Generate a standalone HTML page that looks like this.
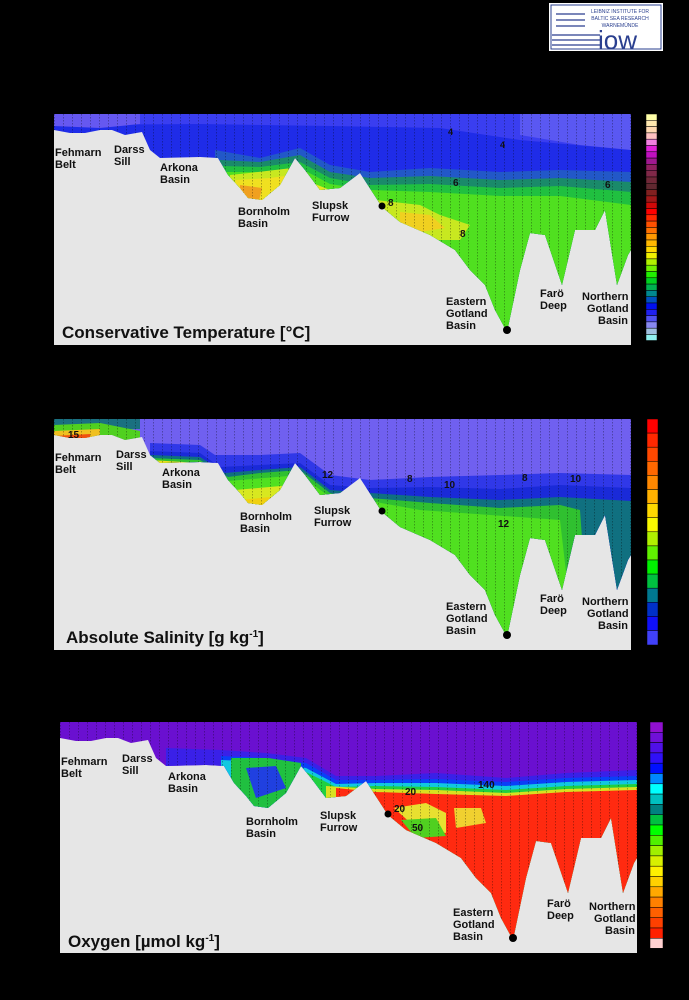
<!DOCTYPE html>
<html><head><meta charset="utf-8"><style>
html,body{margin:0;padding:0;background:#000;}
svg{display:block;}
text{font-family:"Liberation Sans",sans-serif;font-weight:bold;fill:#111;}
.lb{font-size:11px;}
.tt{font-size:17px;}
</style></head><body>
<svg width="689" height="1000" viewBox="0 0 689 1000" xmlns="http://www.w3.org/2000/svg">
<defs>
<path id="water" d="M54,114 L631,114 L631,250 L628,255 L617,285 L605,210 L595,230 L575,230 L562,285 L545,235 L530,233 L520,270 L507,332 L495,310 L485,285 L470,270 L455,250 L430,235 L400,222 L382,207 L360,173 L340,188 L320,190 L305,170 L295,158 L280,185 L262,200 L248,198 L240,188 L228,175 L218,158 L200,157 L160,158 L150,150 L142,132 L125,135 L112,130 L100,130 L85,133 L70,133 L54,130 Z"/>
<clipPath id="cw"><use href="#water"/></clipPath>
<pattern id="dots" width="9" height="3" patternUnits="userSpaceOnUse"><rect x="0" y="0" width="1" height="1.5" fill="#000" opacity="0.3"/></pattern>
</defs>

<rect x="549" y="3" width="114" height="48" fill="#fff"/>
<rect x="551" y="5" width="110" height="44" fill="none" stroke="#2a3f8f" stroke-width="1"/>
<text x="620" y="13" style="font-size:5px;fill:#2a3f8f;font-weight:normal" text-anchor="middle">LEIBNIZ INSTITUTE FOR</text>
<text x="620" y="20" style="font-size:5px;fill:#2a3f8f;font-weight:normal" text-anchor="middle">BALTIC SEA RESEARCH</text>
<text x="620" y="27" style="font-size:5px;fill:#2a3f8f;font-weight:normal" text-anchor="middle">WARNEMÜNDE</text>
<text x="598" y="49" style="font-size:26px;fill:#2a3f8f;font-weight:normal">iow</text>
<g stroke="#2a3f8f" stroke-width="1.2"><line x1="552" y1="35" x2="600" y2="35"/><line x1="552" y1="40" x2="600" y2="40"/><line x1="552" y1="45" x2="600" y2="45"/><line x1="556" y1="14" x2="585" y2="14"/><line x1="556" y1="20" x2="585" y2="20"/><line x1="556" y1="26" x2="585" y2="26"/></g>

<!-- PANEL 1 -->
<g>
<rect x="54" y="114" width="577" height="231" fill="#e6e6e6"/>
<g clip-path="url(#cw)">
<rect x="54" y="114" width="577" height="230" fill="#1f2ce8"/>
<path d="M54,114 L631,114 L631,150 L520,140 L440,128 L330,126 L200,124 L54,125 Z" fill="#3a3ef0"/>
<path d="M520,114 L631,114 L631,150 L580,145 L520,135 Z" fill="#5a58f2"/>
<path d="M54,114 L140,114 L140,124 L100,128 L54,126 Z" fill="#6658f0"/>
<path d="M215,150 L260,158 L300,148 L330,165 L370,172 L430,168 L500,172 L560,170 L631,172 L631,345 L54,345 L54,200 L215,200 Z" fill="#2258c8"/>
<path d="M220,160 L260,162 L300,155 L330,172 L370,178 L430,176 L500,180 L560,178 L631,182 L631,345 L54,345 L54,210 L220,210 Z" fill="#1a8a6a"/>
<path d="M222,166 L260,167 L300,162 L330,178 L370,185 L430,184 L500,188 L560,186 L631,192 L631,345 L54,345 L54,215 L222,215 Z" fill="#20c040"/>
<path d="M225,172 L260,172 L300,168 L330,184 L370,190 L430,192 L500,196 L560,196 L631,205 L631,345 L54,345 L54,220 L225,220 Z" fill="#50e020"/>
<path d="M230,175 L258,172 L292,168 L300,200 L230,205 Z" fill="#c8e820"/>
<path d="M235,180 L270,178 L292,175 L290,205 L240,205 Z" fill="#f0e020"/>
<path d="M240,185 L262,188 L258,205 L240,205 Z" fill="#f0a020"/>
<path d="M305,180 L330,190 L370,193 L380,215 L305,215 Z" fill="#e8e820"/>
<path d="M375,200 L420,205 L440,215 L470,225 L460,240 L420,240 L380,230 Z" fill="#c8e820"/>
<path d="M400,212 L430,215 L445,228 L420,232 L400,225 Z" fill="#f0d020"/>
<rect x="54" y="114" width="577" height="231" fill="url(#dots)"/>
</g>
<circle cx="507" cy="330" r="4" fill="#000"/>
<circle cx="382" cy="206" r="3.5" fill="#000"/>
<text class="lb" x="55" y="156">Fehmarn</text><text class="lb" x="55" y="168">Belt</text>
<text class="lb" x="114" y="153">Darss</text><text class="lb" x="114" y="165">Sill</text>
<text class="lb" x="160" y="171">Arkona</text><text class="lb" x="160" y="183">Basin</text>
<text class="lb" x="238" y="215">Bornholm</text><text class="lb" x="238" y="227">Basin</text>
<text class="lb" x="312" y="209">Slupsk</text><text class="lb" x="312" y="221">Furrow</text>
<text class="lb" x="446" y="305">Eastern</text><text class="lb" x="446" y="317">Gotland</text><text class="lb" x="446" y="329">Basin</text>
<text class="lb" x="540" y="297">Farö</text><text class="lb" x="540" y="309">Deep</text>
<text class="lb" x="582" y="300">Northern</text><text class="lb" x="587" y="312">Gotland</text><text class="lb" x="598" y="324">Basin</text>
<text class="lb" x="448" y="135" style="font-size:9px">4</text><text class="lb" x="500" y="148" style="font-size:9px">4</text>
<text class="lb" x="453" y="186" style="font-size:10px">6</text><text class="lb" x="605" y="188" style="font-size:10px">6</text>
<text class="lb" x="388" y="206" style="font-size:10px">8</text><text class="lb" x="460" y="237" style="font-size:10px">8</text>
<text class="tt" x="62" y="338">Conservative Temperature [°C]</text>
</g>

<!-- PANEL 2 -->
<g>
<rect x="54" y="419" width="577" height="231" fill="#e6e6e6"/>
<g transform="translate(0,305)">
<g clip-path="url(#cw)">
<rect x="54" y="114" width="577" height="230" fill="#7060f0"/>
<path d="M54,114 L140,114 L140,124 L54,124 Z" fill="#1a7080"/>
<path d="M54,120 L100,118 L140,126 L140,140 L54,140 Z" fill="#50d020"/>
<path d="M54,126 L100,124 L100,140 L54,140 Z" fill="#f0c020"/>
<path d="M54,131 L90,129 L90,140 L54,140 Z" fill="#f05010"/>
<path d="M150,138 L200,140 L215,150 L260,150 L300,148 L330,170 L370,175 L430,172 L500,170 L560,168 L631,170 L631,345 L150,345 Z" fill="#3038e8"/>
<path d="M150,146 L200,148 L220,162 L260,160 L300,158 L330,180 L370,183 L430,182 L500,184 L560,180 L631,183 L631,345 L150,345 Z" fill="#1a2ad8"/>
<path d="M150,150 L200,152 L225,168 L260,165 L300,162 L330,185 L370,188 L430,192 L500,195 L560,192 L631,196 L631,345 L150,345 Z" fill="#107080"/>
<path d="M150,153 L200,155 L228,172 L260,168 L300,165 L330,188 L370,193 L430,198 L500,203 L560,200 L580,205 L590,345 L150,345 Z" fill="#30c030"/>
<path d="M228,176 L300,170 L330,192 L370,196 L420,205 L560,215 L575,345 L150,345 Z" fill="#50e020"/>
<path d="M150,155 L200,158 L200,165 L150,165 Z" fill="#e8e020"/>
<path d="M235,185 L292,180 L300,210 L235,210 Z" fill="#d8e820"/>
<path d="M240,195 L290,190 L290,210 L240,210 Z" fill="#f0d010"/>
<rect x="54" y="114" width="577" height="231" fill="url(#dots)"/>
</g>
<circle cx="507" cy="330" r="4" fill="#000"/>
<circle cx="382" cy="206" r="3.5" fill="#000"/>
</g>
<text class="lb" x="55" y="461">Fehmarn</text><text class="lb" x="55" y="473">Belt</text>
<text class="lb" x="116" y="458">Darss</text><text class="lb" x="116" y="470">Sill</text>
<text class="lb" x="162" y="476">Arkona</text><text class="lb" x="162" y="488">Basin</text>
<text class="lb" x="240" y="520">Bornholm</text><text class="lb" x="240" y="532">Basin</text>
<text class="lb" x="314" y="514">Slupsk</text><text class="lb" x="314" y="526">Furrow</text>
<text class="lb" x="446" y="610">Eastern</text><text class="lb" x="446" y="622">Gotland</text><text class="lb" x="446" y="634">Basin</text>
<text class="lb" x="540" y="602">Farö</text><text class="lb" x="540" y="614">Deep</text>
<text class="lb" x="582" y="605">Northern</text><text class="lb" x="587" y="617">Gotland</text><text class="lb" x="598" y="629">Basin</text>
<text class="lb" x="407" y="482" style="font-size:10px">8</text><text class="lb" x="522" y="481" style="font-size:10px">8</text>
<text class="lb" x="444" y="488" style="font-size:10px">10</text><text class="lb" x="570" y="482" style="font-size:10px">10</text>
<text class="lb" x="322" y="478" style="font-size:10px">12</text><text class="lb" x="498" y="527" style="font-size:10px">12</text>
<text class="lb" x="68" y="438" style="font-size:10px">15</text>
<text class="tt" x="66" y="643">Absolute Salinity [g kg<tspan dy="-6" style="font-size:10px">-1</tspan><tspan dy="6">]</tspan></text>
</g>

<!-- PANEL 3 -->
<g>
<rect x="60" y="722" width="577" height="231" fill="#e6e6e6"/>
<g transform="translate(6,608)">
<g clip-path="url(#cw)">
<rect x="54" y="114" width="577" height="230" fill="#6a10d0"/>
<path d="M160,140 L215,142 L260,145 L300,150 L330,168 L370,168 L430,165 L500,170 L560,165 L631,162 L631,345 L160,345 Z" fill="#3a20e8"/>
<path d="M215,148 L260,150 L300,155 L330,172 L370,172 L430,171 L500,174 L560,170 L631,168 L631,345 L215,345 Z" fill="#0a40f8"/>
<path d="M215,152 L260,154 L300,160 L330,176 L370,175 L430,175 L500,178 L560,174 L631,172 L631,345 L215,345 Z" fill="#10c8e0"/>
<path d="M300,164 L330,179 L370,178 L430,179 L500,182 L560,178 L631,176 L631,345 L300,345 Z" fill="#20d040"/>
<path d="M320,178 L370,181 L430,182 L500,185 L560,181 L631,179 L631,345 L320,345 Z" fill="#d8e020"/>
<path d="M330,180 L370,184 L430,186 L500,188 L560,184 L631,182 L631,345 L330,345 Z" fill="#ff2a10"/>
<path d="M388,200 L420,195 L440,205 L440,225 L410,220 Z" fill="#e8e030"/>
<path d="M395,212 L430,210 L440,228 L410,230 Z" fill="#50d020"/>
<path d="M448,200 L475,200 L480,215 L450,220 Z" fill="#f0d030"/>
<path d="M225,150 L262,150 L295,155 L295,200 L225,200 Z" fill="#20c040"/>
<path d="M240,160 L270,158 L280,180 L250,190 Z" fill="#2040e0"/>
<rect x="54" y="114" width="577" height="231" fill="url(#dots)"/>
</g>
<circle cx="507" cy="330" r="4" fill="#000"/>
<circle cx="382" cy="206" r="3.5" fill="#000"/>
</g>
<text class="lb" x="61" y="765">Fehmarn</text><text class="lb" x="61" y="777">Belt</text>
<text class="lb" x="122" y="762">Darss</text><text class="lb" x="122" y="774">Sill</text>
<text class="lb" x="168" y="780">Arkona</text><text class="lb" x="168" y="792">Basin</text>
<text class="lb" x="246" y="825">Bornholm</text><text class="lb" x="246" y="837">Basin</text>
<text class="lb" x="320" y="819">Slupsk</text><text class="lb" x="320" y="831">Furrow</text>
<text class="lb" x="453" y="916">Eastern</text><text class="lb" x="453" y="928">Gotland</text><text class="lb" x="453" y="940">Basin</text>
<text class="lb" x="547" y="907">Farö</text><text class="lb" x="547" y="919">Deep</text>
<text class="lb" x="589" y="910">Northern</text><text class="lb" x="594" y="922">Gotland</text><text class="lb" x="605" y="934">Basin</text>
<text class="lb" x="405" y="795" style="font-size:10px">20</text><text class="lb" x="394" y="812" style="font-size:10px">20</text>
<text class="lb" x="412" y="831" style="font-size:10px">50</text><text class="lb" x="478" y="788" style="font-size:10px">140</text>
<text class="tt" x="68" y="947">Oxygen [µmol kg<tspan dy="-6" style="font-size:10px">-1</tspan><tspan dy="6">]</tspan></text>
</g>

<g stroke="#000" stroke-width="0.5">
<rect x="646" y="114.0" width="11" height="6.3" fill="#ffffa8"/><rect x="646" y="120.3" width="11" height="6.3" fill="#ffe8b0"/><rect x="646" y="126.6" width="11" height="6.3" fill="#ffd8b0"/><rect x="646" y="132.9" width="11" height="6.3" fill="#ffc0c0"/><rect x="646" y="139.2" width="11" height="6.3" fill="#f080e0"/><rect x="646" y="145.5" width="11" height="6.3" fill="#e020d8"/><rect x="646" y="151.8" width="11" height="6.3" fill="#c010c0"/><rect x="646" y="158.1" width="11" height="6.3" fill="#a01890"/><rect x="646" y="164.4" width="11" height="6.3" fill="#902060"/><rect x="646" y="170.7" width="11" height="6.3" fill="#802848"/><rect x="646" y="177.0" width="11" height="6.3" fill="#702838"/><rect x="646" y="183.3" width="11" height="6.3" fill="#602830"/><rect x="646" y="189.6" width="11" height="6.3" fill="#802020"/><rect x="646" y="195.9" width="11" height="6.3" fill="#a01818"/><rect x="646" y="202.2" width="11" height="6.3" fill="#d00808"/><rect x="646" y="208.5" width="11" height="6.3" fill="#ff0000"/><rect x="646" y="214.8" width="11" height="6.3" fill="#ff2800"/><rect x="646" y="221.1" width="11" height="6.3" fill="#ff5000"/><rect x="646" y="227.4" width="11" height="6.3" fill="#ff7000"/><rect x="646" y="233.7" width="11" height="6.3" fill="#ff9800"/><rect x="646" y="240.0" width="11" height="6.3" fill="#ffb800"/><rect x="646" y="246.3" width="11" height="6.3" fill="#ffd800"/><rect x="646" y="252.6" width="11" height="6.3" fill="#f0f000"/><rect x="646" y="258.9" width="11" height="6.3" fill="#b0f000"/><rect x="646" y="265.2" width="11" height="6.3" fill="#70f000"/><rect x="646" y="271.5" width="11" height="6.3" fill="#20f000"/><rect x="646" y="277.8" width="11" height="6.3" fill="#00d020"/><rect x="646" y="284.1" width="11" height="6.3" fill="#00b050"/><rect x="646" y="290.4" width="11" height="6.3" fill="#008890"/><rect x="646" y="296.7" width="11" height="6.3" fill="#0050c0"/><rect x="646" y="303.0" width="11" height="6.3" fill="#0010f0"/><rect x="646" y="309.3" width="11" height="6.3" fill="#2020f0"/><rect x="646" y="315.6" width="11" height="6.3" fill="#5050f0"/><rect x="646" y="321.9" width="11" height="6.3" fill="#8888f0"/><rect x="646" y="328.2" width="11" height="6.3" fill="#a0c0e0"/><rect x="646" y="334.5" width="11" height="6.0" fill="#90f0f0"/>
<rect x="647" y="419.0" width="11" height="14.1" fill="#ff0000"/><rect x="647" y="433.1" width="11" height="14.1" fill="#ff2800"/><rect x="647" y="447.2" width="11" height="14.1" fill="#ff4800"/><rect x="647" y="461.3" width="11" height="14.1" fill="#ff6800"/><rect x="647" y="475.4" width="11" height="14.1" fill="#ff8800"/><rect x="647" y="489.5" width="11" height="14.1" fill="#ffb000"/><rect x="647" y="503.6" width="11" height="14.1" fill="#ffd800"/><rect x="647" y="517.7" width="11" height="14.1" fill="#f8f800"/><rect x="647" y="531.8" width="11" height="14.1" fill="#b0f000"/><rect x="647" y="545.9" width="11" height="14.1" fill="#60f000"/><rect x="647" y="560.0" width="11" height="14.1" fill="#00f000"/><rect x="647" y="574.1" width="11" height="14.1" fill="#00c040"/><rect x="647" y="588.2" width="11" height="14.1" fill="#007890"/><rect x="647" y="602.3" width="11" height="14.1" fill="#0030c8"/><rect x="647" y="616.4" width="11" height="14.1" fill="#1010f8"/><rect x="647" y="630.5" width="11" height="14.5" fill="#4040f8"/>
<rect x="650" y="722.0" width="13" height="10.3" fill="#9010d0"/><rect x="650" y="732.3" width="13" height="10.3" fill="#7010d8"/><rect x="650" y="742.6" width="13" height="10.3" fill="#5010e8"/><rect x="650" y="752.9" width="13" height="10.3" fill="#3010f8"/><rect x="650" y="763.2" width="13" height="10.3" fill="#0010ff"/><rect x="650" y="773.5" width="13" height="10.3" fill="#0088ff"/><rect x="650" y="783.8" width="13" height="10.3" fill="#00ffff"/><rect x="650" y="794.1" width="13" height="10.3" fill="#00c0c0"/><rect x="650" y="804.4" width="13" height="10.3" fill="#008080"/><rect x="650" y="814.7" width="13" height="10.3" fill="#00c040"/><rect x="650" y="825.0" width="13" height="10.3" fill="#00ff00"/><rect x="650" y="835.3" width="13" height="10.3" fill="#50f000"/><rect x="650" y="845.6" width="13" height="10.3" fill="#a0f000"/><rect x="650" y="855.9" width="13" height="10.3" fill="#d8f000"/><rect x="650" y="866.2" width="13" height="10.3" fill="#fff000"/><rect x="650" y="876.5" width="13" height="10.3" fill="#ffd000"/><rect x="650" y="886.8" width="13" height="10.3" fill="#ffa800"/><rect x="650" y="897.1" width="13" height="10.3" fill="#ff8000"/><rect x="650" y="907.4" width="13" height="10.3" fill="#ff6000"/><rect x="650" y="917.7" width="13" height="10.3" fill="#ff4000"/><rect x="650" y="928.0" width="13" height="10.3" fill="#ff2000"/><rect x="650" y="938.3" width="13" height="10" fill="#ffd0d0"/>
</g>
</svg>
</body></html>
